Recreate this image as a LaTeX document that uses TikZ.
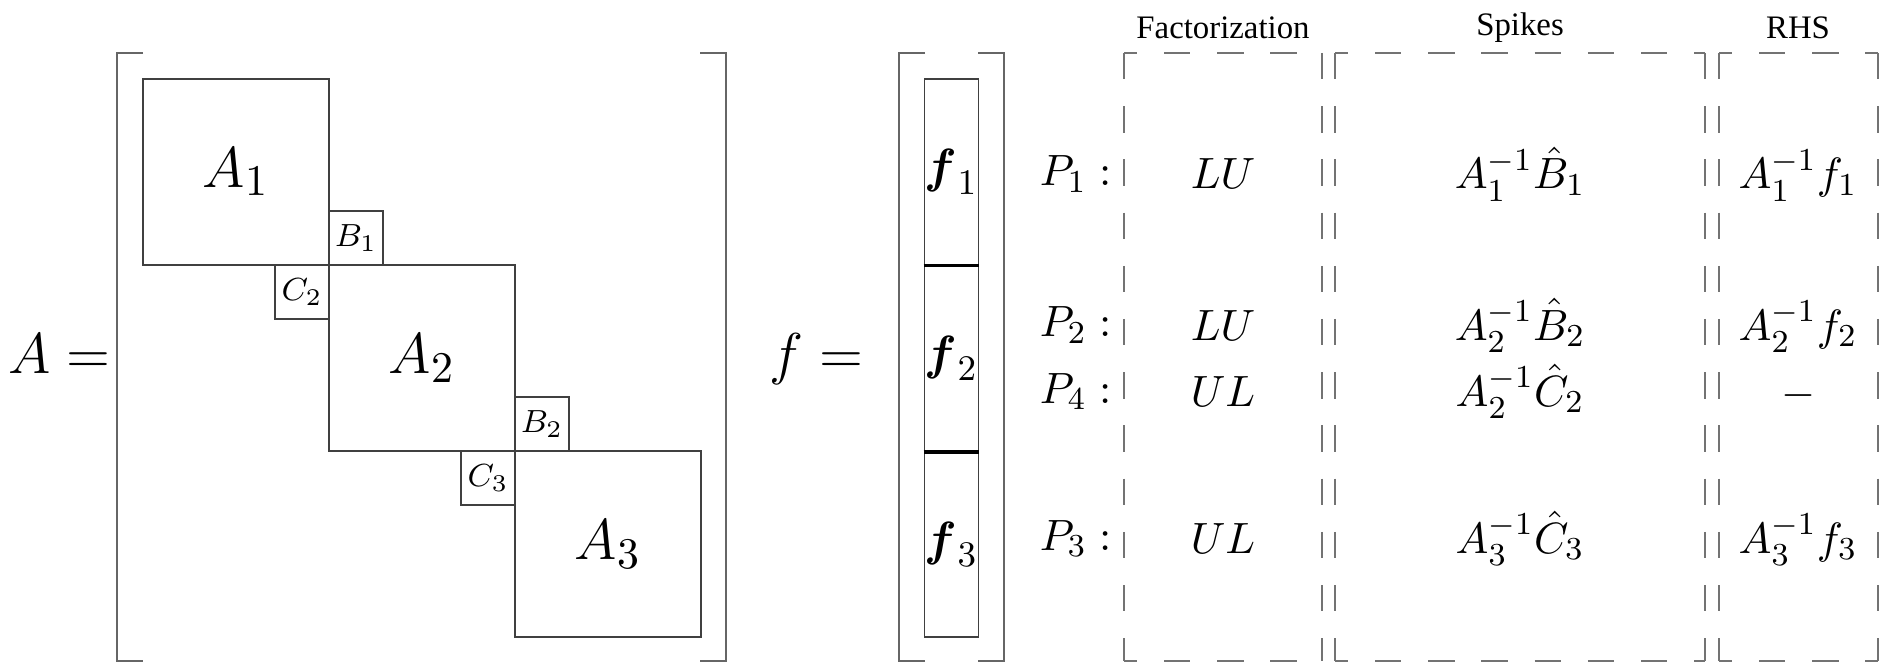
\documentclass[tikz,border=0pt]{standalone}
\usepackage{amsmath,amssymb}
\usepackage{fontspec}
\newfontfamily\headfont{Liberation Serif}

\begin{document}
\begin{tikzpicture}[x=0.25pt, y=-0.25pt,
    blk/.style={draw=black!75, line width=0.45pt, minimum size=46.5pt, inner sep=0pt, font=\fontsize{15}{17}\selectfont},
    spk/.style={draw=black!75, line width=0.45pt, minimum size=13.5pt, inner sep=0pt, font=\fontsize{8.4}{10}\selectfont},
    seg/.style={draw=black!75, line width=0.45pt, minimum width=13.5pt, minimum height=46.5pt, inner sep=0pt, font=\fontsize{12.8}{15}\selectfont},
    brk/.style={draw=black!60, line width=0.45pt},
    col/.style={draw=black!55, line width=0.45pt, dash pattern=on 6.6pt off 6.7pt},
    ent/.style={anchor=base, inner sep=0pt, font=\fontsize{11.3}{13}\selectfont},
    lbl/.style={anchor=base east, inner sep=0pt, font=\fontsize{11}{13}\selectfont},
    hdr/.style={inner sep=0pt, font=\headfont\fontsize{8.2}{10}\selectfont}]

    \useasboundingbox (0,0) rectangle (1891,662);

    % block matrix A
    \node[anchor=base east, inner sep=0pt, font=\fontsize{15}{17}\selectfont] (Aeq) at (111,373) {$A =$};
    \draw[brk] (143,53) -- (117,53) -- (117,661) -- (143,661);
    \draw[brk] (700,53) -- (726,53) -- (726,661) -- (700,661);

    \node[blk] (A1) at (236,172) {$A_1$};
    \node[blk] (A2) at (422,358) {$A_2$};
    \node[blk] (A3) at (608,544) {$A_3$};
    \node[spk] (B1) at (356,238) {$B_1$};
    \node[spk] (C2) at (302,292) {$C_2$};
    \node[spk] (B2) at (542,424) {$B_2$};
    \node[spk] (C3) at (488,478) {$C_3$};

    % right hand side f
    \node[anchor=base east, inner sep=0pt, font=\fontsize{15}{17}\selectfont] (feq) at (864,373) {$f =$};
    \draw[brk] (925,53) -- (899,53) -- (899,661) -- (925,661);
    \draw[brk] (978,53) -- (1004,53) -- (1004,661) -- (978,661);

    \node[seg] (f1) at (951.5,172) {$\boldsymbol{f}_1$};
    \node[seg] (f2) at (951.5,358) {$\boldsymbol{f}_2$};
    \node[seg] (f3) at (951.5,544) {$\boldsymbol{f}_3$};
    \draw[line width=0.8pt] (f1.south west) -- (f1.south east);
    \draw[line width=0.8pt] (f2.south west) -- (f2.south east);

    % dashed columns
    \foreach \xl/\xr in {1124/1322, 1335/1705, 1719/1878} {
        \draw[col] (\xl,53) -- (\xl,661);
        \draw[col] (\xr,53) -- (\xr,661);
        \draw[col, dash phase=3.3pt] (\xl,53) -- (\xr,53);
        \draw[col, dash phase=3.3pt] (\xl,661) -- (\xr,661);
    }

    \node[hdr] (hF) at (1223,28) {Factorization};
    \node[hdr] (hS) at (1520,28) {Spikes};
    \node[hdr] (hR) at (1798,28) {RHS};

    % processes
    \node[lbl] (P1) at (1112,186) {$P_1 :$};
    \node[lbl] (P2) at (1112,337) {$P_2 :$};
    \node[lbl] (P4) at (1112,403) {$P_4 :$};
    \node[lbl] (P3) at (1112,550) {$P_3 :$};

    \node[ent] (F1) at (1223,189) {$LU$};
    \node[ent] (F2) at (1223,340) {$LU$};
    \node[ent] (F4) at (1223,406) {$UL$};
    \node[ent] (F3) at (1223,553) {$UL$};

    \node[ent] (S1) at (1520,189) {$A_1^{-1}\hat{B}_1$};
    \node[ent] (S2) at (1520,340) {$A_2^{-1}\hat{B}_2$};
    \node[ent] (S4) at (1520,406) {$A_2^{-1}\hat{C}_2$};
    \node[ent] (S3) at (1520,553) {$A_3^{-1}\hat{C}_3$};

    \node[ent] (R1) at (1798,189) {$A_1^{-1}f_1$};
    \node[ent] (R2) at (1798,340) {$A_2^{-1}f_2$};
    \node[ent] (R4) at (1798,406) {$-$};
    \node[ent] (R3) at (1798,553) {$A_3^{-1}f_3$};

\end{tikzpicture}
\end{document}
